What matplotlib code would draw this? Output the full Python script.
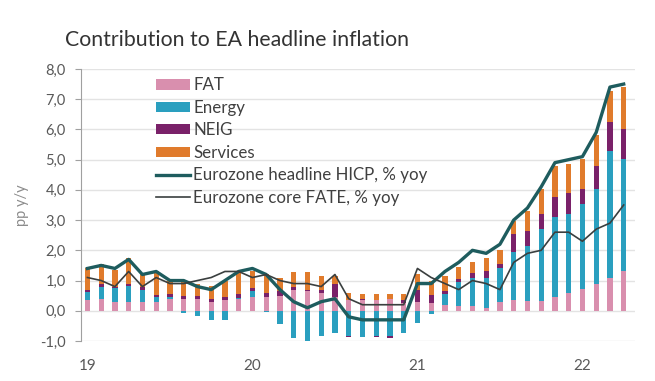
import matplotlib
matplotlib.use("Agg")
import matplotlib.pyplot as plt
from matplotlib.patches import Patch
from matplotlib.lines import Line2D
import numpy as np

plt.rcParams['font.family'] = ['Lato', 'DejaVu Sans']

months = [f"{y}-{m:02d}" for y in (2019, 2020, 2021, 2022) for m in range(1, 13)][:40]
year_labels = ["19", "20", "21", "22"]

fat = [0.35, 0.40, 0.30, 0.28, 0.30, 0.30, 0.40, 0.40, 0.40, 0.30, 0.35, 0.40,
       0.45, 0.45, 0.50, 0.70, 0.65, 0.60, 0.45, 0.35, 0.35, 0.35, 0.40, 0.25,
       0.30, 0.25, 0.20, 0.15, 0.15, 0.10, 0.30, 0.35, 0.33, 0.33, 0.44, 0.60,
       0.72, 0.88, 1.10, 1.32]
energy = [0.26, 0.40, 0.45, 0.55, 0.40, 0.15, 0.05, -0.06, -0.18, -0.32, -0.32, 0.02,
          0.19, -0.03, -0.45, -0.90, -1.00, -0.85, -0.75, -0.85, -0.88, -0.85, -0.85, -0.75,
          -0.40, -0.12, 0.35, 0.80, 0.95, 1.00, 1.10, 1.60, 1.82, 2.37, 2.66, 2.60,
          2.80, 3.15, 4.20, 3.71]
neig = [0.08, 0.08, 0.05, 0.05, 0.08, 0.06, 0.10, 0.10, 0.10, 0.08, 0.10, 0.12,
        0.12, 0.15, 0.15, 0.10, 0.05, 0.10, 0.42, -0.03, 0.05, -0.02, -0.05, 0.12,
        0.40, 0.28, 0.10, 0.10, 0.15, 0.20, 0.15, 0.60, 0.50, 0.50, 0.65, 0.70,
        0.50, 0.77, 0.93, 1.00]
services = [0.71, 0.67, 0.55, 0.87, 0.44, 0.82, 0.45, 0.50, 0.40, 0.45, 0.55, 0.75,
            0.56, 0.60, 0.45, 0.47, 0.57, 0.46, 0.29, 0.25, 0.15, 0.20, 0.15, 0.18,
            0.50, 0.47, 0.50, 0.40, 0.35, 0.45, 0.45, 0.43, 0.65, 0.83, 1.05, 0.95,
            1.00, 1.00, 1.05, 1.38]
headline = [1.4, 1.5, 1.4, 1.7, 1.2, 1.3, 1.0, 1.0, 0.8, 0.7, 1.0, 1.3,
            1.4, 1.2, 0.7, 0.3, 0.1, 0.3, 0.4, -0.2, -0.3, -0.3, -0.3, -0.3,
            0.9, 0.9, 1.3, 1.6, 2.0, 1.9, 2.2, 3.0, 3.4, 4.1, 4.9, 5.0,
            5.1, 5.9, 7.4, 7.5]
core = [1.1, 1.0, 0.8, 1.3, 0.8, 1.1, 0.9, 0.9, 1.0, 1.1, 1.3, 1.3,
        1.1, 1.2, 1.0, 0.9, 0.9, 0.8, 1.2, 0.4, 0.2, 0.2, 0.2, 0.2,
        1.4, 1.1, 0.9, 0.7, 1.0, 0.9, 0.7, 1.6, 1.9, 2.0, 2.6, 2.6,
        2.3, 2.7, 2.9, 3.5]

series = [("FAT", fat, "#d98fae"),
          ("Energy", energy, "#2a9fbf"),
          ("NEIG", neig, "#7a2169"),
          ("Services", services, "#e07b2c")]

fig = plt.figure(figsize=(6.55, 3.81), dpi=100)
ax = fig.add_axes([0.124, 0.105, 0.845, 0.714])

x = np.arange(len(months))
pos_bottom = np.zeros(len(x))
neg_bottom = np.zeros(len(x))
for name, vals, col in series:
    v = np.array(vals)
    b = np.where(v >= 0, pos_bottom, neg_bottom)
    ax.bar(x, v, width=0.38, bottom=b, color=col, zorder=2, linewidth=0)
    pos_bottom = pos_bottom + np.where(v >= 0, v, 0)
    neg_bottom = neg_bottom + np.where(v < 0, v, 0)

ax.plot(x, headline, color="#1e5c5e", lw=2.4, zorder=4)
ax.plot(x, core, color="#3a3f3f", lw=1.2, zorder=4)

ax.set_ylim(-1, 8)
ax.set_xlim(-0.45, 39.8)
yt = np.arange(-1, 9)
ax.set_yticks(yt)
ax.set_yticklabels([f"{v:.1f}".replace(".", ",") for v in yt], color="#595959", fontsize=10.5)
ax.yaxis.grid(True, color="#e3e3e3", lw=1.0, zorder=0)
ax.set_axisbelow(True)
ax.set_xticks([0, 12, 24, 36])
ax.set_xticklabels(year_labels, color="#595959", fontsize=11)
ax.tick_params(axis='x', length=0, pad=13)
ax.tick_params(axis='y', length=4, color="#a0a0a0", direction='out', pad=7)
for s in ("top", "right", "bottom"):
    ax.spines[s].set_visible(False)
ax.spines["left"].set_color("#a0a0a0")
ax.set_ylabel("pp y/y", color="#8c8c8c", fontsize=10.5, labelpad=8)

handles = [Patch(facecolor=c, label=n) for n, _, c in series]
handles += [Line2D([], [], color="#1e5c5e", lw=2.4, label="Eurozone headline HICP, % yoy"),
            Line2D([], [], color="#3a3f3f", lw=1.2, label="Eurozone core FATE, % yoy")]
ax.legend(handles=handles, loc="upper left", bbox_to_anchor=(0.12, 1.0), frameon=False,
          fontsize=12.2, handlelength=2.0, handleheight=0.55, handletextpad=0.2,
          labelspacing=0.38, labelcolor="#404040", borderaxespad=0.1)

fig.text(0.099, 0.895, "Contribution to EA headline inflation", fontsize=15.3,
         color="#333333", ha="left", va="center")

fig.savefig("out.png", dpi=100)
